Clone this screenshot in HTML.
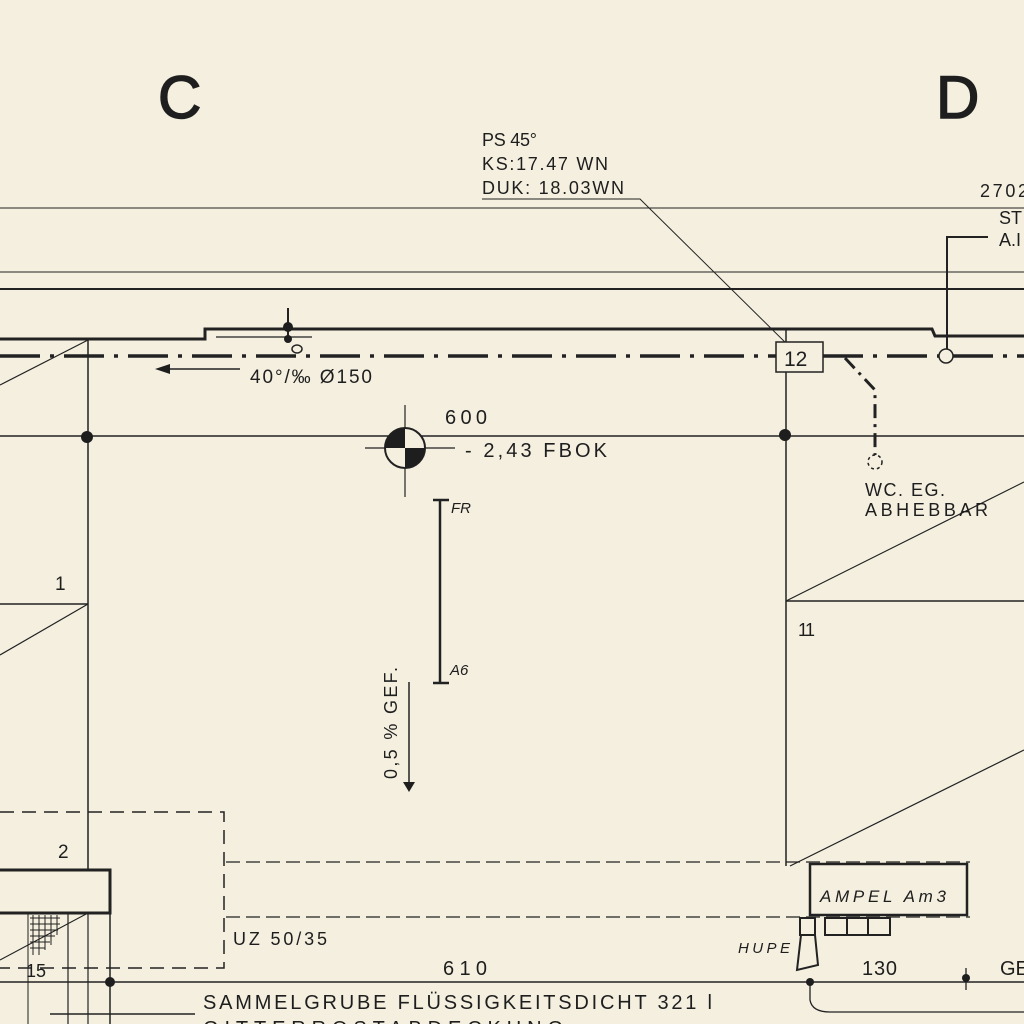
<!DOCTYPE html>
<html><head><meta charset="utf-8"><style>
html,body{margin:0;padding:0;background:#f4efdf;}
svg{display:block;}
text{font-family:"Liberation Sans","DejaVu Sans",sans-serif;fill:#1e1e1e;}
</style></head><body>
<svg width="1024" height="1024" viewBox="0 0 1024 1024" xmlns="http://www.w3.org/2000/svg">
<rect width="1024" height="1024" fill="#f4efdf"/>
<g stroke="#222" fill="none">
<line x1="0" y1="208" x2="1024" y2="208" stroke-width="1"/>
<line x1="0" y1="272" x2="1024" y2="272" stroke-width="1"/>
<line x1="0" y1="289" x2="1024" y2="289" stroke-width="2"/>
<polyline points="0,339 205,339 205,329 932,329 935,336 1024,336" stroke-width="3"/>
<line x1="0" y1="356" x2="776" y2="356" stroke-width="3.5" stroke-dasharray="40,10,4,10"/>
<line x1="823" y1="356" x2="939" y2="356" stroke-width="3.5" stroke-dasharray="40,10,4,10"/>
<line x1="953" y1="356" x2="1024" y2="356" stroke-width="3.5" stroke-dasharray="40,10,4,10"/>
<polyline points="482,199 640,199 795,352" stroke-width="1"/>
<polyline points="988,237 947,237 947,349" stroke-width="2"/>
<circle cx="946" cy="356" r="7" stroke-width="1.5"/>
<rect x="776" y="342" width="47" height="30" stroke-width="1.5" fill="#f4efdf"/>
<line x1="88" y1="339" x2="88" y2="870" stroke-width="1.5"/>
<line x1="786" y1="329" x2="786" y2="342" stroke-width="1.5"/>
<line x1="786" y1="372" x2="786" y2="866" stroke-width="1.5"/>
<line x1="0" y1="385" x2="88" y2="340" stroke-width="1.2"/>
<line x1="0" y1="436" x2="1024" y2="436" stroke-width="1.5"/>
<line x1="165" y1="369" x2="240" y2="369" stroke-width="1.5"/>
<line x1="288" y1="308" x2="288" y2="340" stroke-width="2"/>
<line x1="216" y1="337" x2="312" y2="337" stroke-width="1.2"/>
<ellipse cx="297" cy="349" rx="5" ry="4" stroke-width="1.5"/>
<polyline points="845,358 875,390 875,455" stroke-width="3" stroke-dasharray="14,6,3,6"/>
<circle cx="875" cy="462" r="7" stroke-width="1.5" stroke-dasharray="3,3"/>
<line x1="405" y1="405" x2="405" y2="497" stroke-width="1.2"/>
<line x1="365" y1="448" x2="455" y2="448" stroke-width="1.2"/>
<circle cx="405" cy="448" r="20" stroke-width="2" fill="#f4efdf"/>
<line x1="440" y1="500" x2="440" y2="683" stroke-width="2.5"/>
<line x1="433" y1="500" x2="449" y2="500" stroke-width="2.5"/>
<line x1="433" y1="683" x2="449" y2="683" stroke-width="2.5"/>
<line x1="409" y1="682" x2="409" y2="782" stroke-width="1.5"/>
<line x1="0" y1="604" x2="88" y2="604" stroke-width="1.5"/>
<line x1="0" y1="655" x2="88" y2="604" stroke-width="1.2"/>
<line x1="786" y1="601" x2="1024" y2="601" stroke-width="1.5"/>
<line x1="786" y1="601" x2="1024" y2="482" stroke-width="1.2"/>
<line x1="790" y1="866" x2="1024" y2="750" stroke-width="1.2"/>
<polyline points="0,812 224,812 224,968 0,968" stroke-width="1.5" stroke-dasharray="14,8"/>
<line x1="226" y1="862" x2="970" y2="862" stroke-width="1.3" stroke-dasharray="14,6"/>
<line x1="226" y1="917" x2="970" y2="917" stroke-width="1.3" stroke-dasharray="14,6"/>
<rect x="-5" y="870" width="115" height="43" stroke-width="3"/>
<line x1="28" y1="913" x2="28" y2="1024" stroke-width="1"/>
<line x1="68" y1="913" x2="68" y2="1024" stroke-width="1.2"/>
<line x1="88" y1="913" x2="88" y2="1024" stroke-width="1.2"/>
<line x1="110" y1="913" x2="110" y2="1024" stroke-width="1.5"/>
<line x1="0" y1="960" x2="88" y2="913" stroke-width="1"/>
<line x1="0" y1="982" x2="1024" y2="982" stroke-width="1.5"/>
<line x1="50" y1="1014" x2="195" y2="1014" stroke-width="1.5"/>
<rect x="810" y="864" width="157" height="51" stroke-width="2.5"/>
<rect x="800" y="918" width="15" height="17" stroke-width="2"/>
<rect x="825" y="918" width="65" height="17" stroke-width="2"/>
<line x1="847" y1="918" x2="847" y2="935" stroke-width="2"/>
<line x1="868" y1="918" x2="868" y2="935" stroke-width="2"/>
<polygon points="801,935 815,935 818,965 797,970" stroke-width="2"/>
<path d="M810,982 L810,1000 Q812,1012 830,1012 L1024,1012" stroke-width="1.3"/>
<line x1="966" y1="968" x2="966" y2="990" stroke-width="1.3"/>
</g>
<g fill="#1e1e1e">
<circle cx="87" cy="437" r="6"/>
<circle cx="785" cy="435" r="6"/>
<circle cx="288" cy="327" r="5"/>
<circle cx="288" cy="339" r="4"/>
<polygon points="155,369 170,364 170,374"/>
<path d="M405,448 L405,428 A20,20 0 0 0 385,448 Z"/>
<path d="M405,448 L425,448 A20,20 0 0 1 405,468 Z"/>
<polygon points="403,782 415,782 409,792"/>
<circle cx="110" cy="982" r="5"/>
<circle cx="810" cy="982" r="4"/>
<circle cx="966" cy="978" r="4"/>
</g>
<g stroke="#222" stroke-width="1">
<path d="M30,918 H60 M30,924 H60 M30,930 H58 M30,936 H55 M30,942 H50 M30,948 H45 M33,915 V955 M39,915 V955 M45,915 V950 M51,915 V945 M57,915 V935"/>
</g>
<text x="158" y="118" font-size="60" stroke="#1e1e1e" stroke-width="1.5">C</text>
<text x="936" y="118" font-size="60" stroke="#1e1e1e" stroke-width="1.5">D</text>
<text x="482" y="146" font-size="18" textLength="55">PS 45°</text>
<text x="482" y="170" font-size="18" textLength="126">KS:17.47 WN</text>
<text x="482" y="194" font-size="18" textLength="142">DUK: 18.03WN</text>
<text x="980" y="197" font-size="18" textLength="48">2702</text>
<text x="999" y="224" font-size="18">ST</text>
<text x="999" y="246" font-size="18">A.I</text>
<text x="784" y="366" font-size="21">12</text>
<text x="250" y="383" font-size="19" textLength="122">40°/‰  Ø150</text>
<text x="445" y="424" font-size="20" textLength="42">600</text>
<text x="465" y="457" font-size="20" textLength="142">- 2,43  FBOK</text>
<text x="865" y="496" font-size="18" textLength="80">WC. EG.</text>
<text x="865" y="516" font-size="18" textLength="123">ABHEBBAR</text>
<text x="451" y="513" font-size="15" font-style="italic">FR</text>
<text x="450" y="675" font-size="15" font-style="italic">A6</text>
<text transform="translate(397,779) rotate(-90)" font-size="18" textLength="112">0,5 % GEF.</text>
<text x="55" y="590" font-size="19">1</text>
<text x="798" y="636" font-size="18" textLength="17">11</text>
<text x="58" y="858" font-size="19">2</text>
<text x="233" y="945" font-size="18" textLength="94">UZ 50/35</text>
<text x="443" y="975" font-size="20" textLength="44">610</text>
<text x="26" y="977" font-size="18">15</text>
<text x="820" y="902" font-size="17" font-style="italic" textLength="126">AMPEL  Am3</text>
<text x="738" y="953" font-size="15" font-style="italic" textLength="52">HUPE</text>
<text x="862" y="975" font-size="20" textLength="35">130</text>
<text x="1000" y="975" font-size="20">GE</text>
<text x="203" y="1009" font-size="20" textLength="509">SAMMELGRUBE  FLÜSSIGKEITSDICHT  321 l</text>
<text x="203" y="1035" font-size="20" textLength="360">GITTERROSTABDECKUNG</text>
</svg>
</body></html>
